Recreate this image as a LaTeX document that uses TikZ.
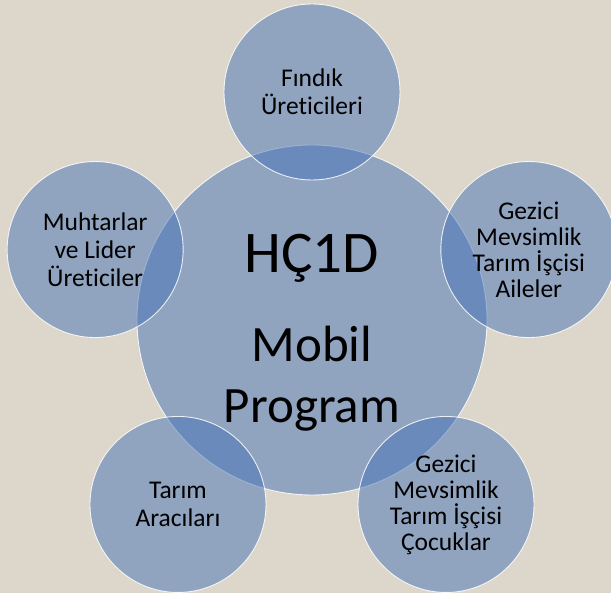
\documentclass[tikz,border=0pt]{standalone}
\usepackage{fontspec}
\setmainfont[Ligatures={NoCommon,NoRequired,NoContextual}, Contextuals=NoAlternate]{Carlito}
\usepackage{tikz}
\definecolor{paper}{RGB}{221,214,202}
\definecolor{ringblue}{RGB}{68,114,182}
\tikzstyle{bubble} = [circle, fill=ringblue, fill opacity=0.5, text opacity=1, draw=white, draw opacity=0.85, line width=0.9pt, align=center, inner sep=0pt]
\tikzstyle{hub} = [bubble, minimum size=350pt, font=\fontsize{51}{61}\selectfont]
\tikzstyle{group} = [bubble, minimum size=176pt, font=\fontsize{25.5}{28}\selectfont]
\tikzstyle{group4} = [bubble, minimum size=176pt, font=\fontsize{25.5}{26}\selectfont]

\begin{document}
\begin{tikzpicture}[x=1pt, y=1pt]
\fill[paper] (-312,-273) rectangle (299,320);
\useasboundingbox (-312,-273) rectangle (299,320);

\node (H) [hub] at (0,0) {};
\node (Hlabel) [align=center, font=\fontsize{51}{61}\selectfont] at (0,-13) {{\fontsize{59}{61}\selectfont HÇ1D}\\[28pt]Mobil\\Program};

\node (F) [group] at (90:228) {Fındık\\Üreticileri};
\node (M) [group] at (162:228) {Muhtarlar\\ve Lider\\Üreticiler};
\node (T) [group] at (234:228) {Tarım\\Aracıları};
\node (C) [group4] at (306:228) {Gezici\\Mevsimlik\\Tarım İşçisi\\Çocuklar};
\node (A) [group4] at (18:228) {Gezici\\Mevsimlik\\Tarım İşçisi\\Aileler};
\end{tikzpicture}
\end{document}
